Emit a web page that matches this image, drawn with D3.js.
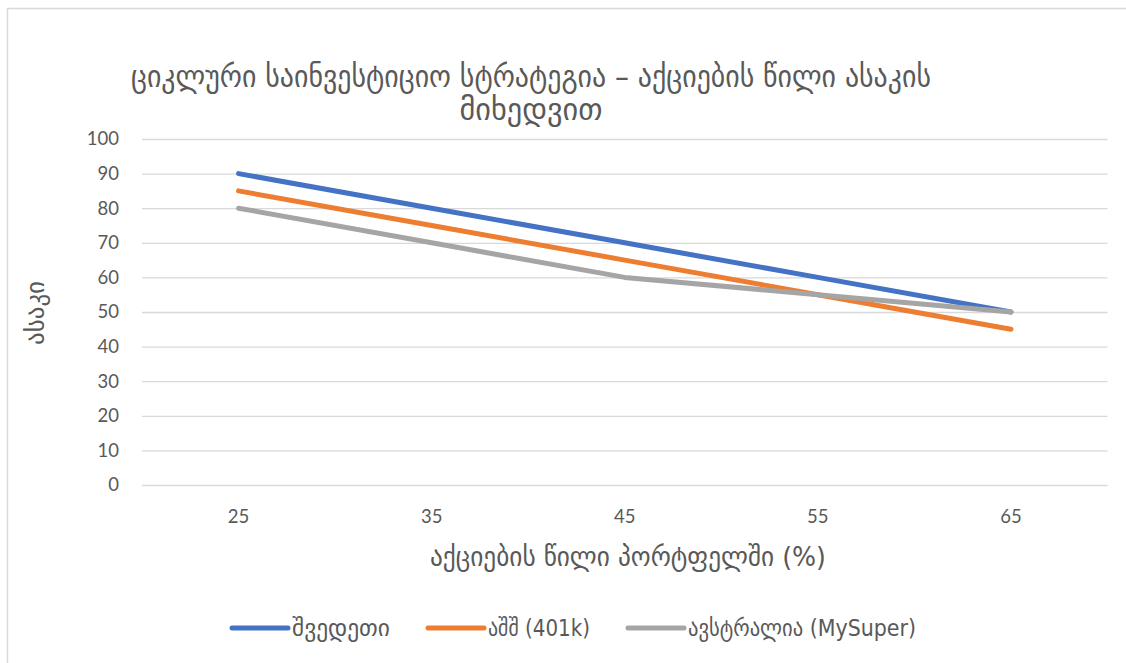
<!DOCTYPE html>
<html><head><meta charset="utf-8">
<script src="https://cdn.jsdelivr.net/npm/d3@7"></script>
<style>body{margin:0;background:#fff}svg{display:block}</style>
</head><body>
<script>
const categories = ["25","35","45","55","65"];
const seriesNames = ["შვედეთი","აშშ (401k)","ავსტრალია (MySuper)"];
const sweden = [90,80,70,60,50];
const usa = [85,75,65,55,45];
const australia = [80,70,60,55,50];
const yTicks = [0,10,20,30,40,50,60,70,80,90,100];
const titleLines = ["ციკლური საინვესტიციო სტრატეგია – აქციების წილი ასაკის","მიხედვით"];
const xTitle = "აქციების წილი პორტფელში (%)";
const yTitle = "ასაკი";
const colors = ["#4472C4","#ED7D31","#A5A5A5"];

const W=1126,H=663;
const svg=d3.select("body").append("svg").attr("width",W).attr("height",H);
svg.append("rect").attr("x",7.5).attr("y",8.5).attr("width",W).attr("height",H).attr("fill","#fff").attr("stroke","#D9D9D9").attr("stroke-width",1.5);

const geo="'DejaVu Sans Condensed','DejaVu Sans',sans-serif";
const num="Lato,'Open Sans',sans-serif";
const tc="#595959";

const x=d3.scaleBand().domain(categories).range([142,1107.5]);
const y=d3.scaleLinear().domain([0,100]).range([485,139]);

// grid
const gy=svg.append("g").attr("transform","translate(142,0)")
 .call(d3.axisLeft(y).tickValues(yTicks).tickSize(-(1107.5-142)).tickPadding(23));
gy.select(".domain").remove();
gy.selectAll(".tick line").attr("stroke","#D9D9D9").attr("stroke-width",1.3);
gy.selectAll(".tick text").attr("fill",tc).attr("font-family",num).attr("font-size",18.5);

const gx=svg.append("g").attr("transform","translate(0,485)")
 .call(d3.axisBottom(x).tickSize(0).tickPadding(25));
gx.select(".domain").remove();
gx.selectAll(".tick text").attr("fill",tc).attr("font-family",num).attr("font-size",18.5);

const data=[sweden,usa,australia];
const line=d3.line().x((d,i)=>x(categories[i])+x.bandwidth()/2).y(d=>y(d));
data.forEach((s,k)=>{
 svg.append("path").attr("d",line(s)).attr("fill","none").attr("stroke",colors[k])
  .attr("stroke-width",5).attr("stroke-linecap","round").attr("stroke-linejoin","round");
});

function fit(sel,w){ sel.attr("textLength",w).attr("lengthAdjust","spacingAndGlyphs"); }

// title
const titleW=[800,143];
titleLines.forEach((l,i)=>{
 const t=svg.append("text").attr("x",531).attr("y",87+i*33).attr("text-anchor","middle").attr("fill",tc)
  .attr("font-family",geo).attr("font-size",30).text(l);
 fit(t,titleW[i]);
});

fit(svg.append("text").attr("x",628).attr("y",566).attr("text-anchor","middle").attr("fill",tc)
 .attr("font-family",geo).attr("font-size",27).text(xTitle),396);
fit(svg.append("text").attr("transform","translate(44,313) rotate(-90)").attr("text-anchor","middle").attr("fill",tc)
 .attr("font-family",geo).attr("font-size",26).text(yTitle),64);

// legend
const legX=[232,428,628];
const legW=[98,102,228];
seriesNames.forEach((n,k)=>{
 const g=svg.append("g").attr("transform",`translate(${legX[k]},628)`);
 g.append("line").attr("x1",0).attr("x2",56).attr("stroke",colors[k]).attr("stroke-width",5).attr("stroke-linecap","round");
 fit(g.append("text").attr("x",60).attr("y",8).attr("fill",tc).attr("font-family",geo).attr("font-size",23).text(n),legW[k]);
});
</script>
</body></html>
